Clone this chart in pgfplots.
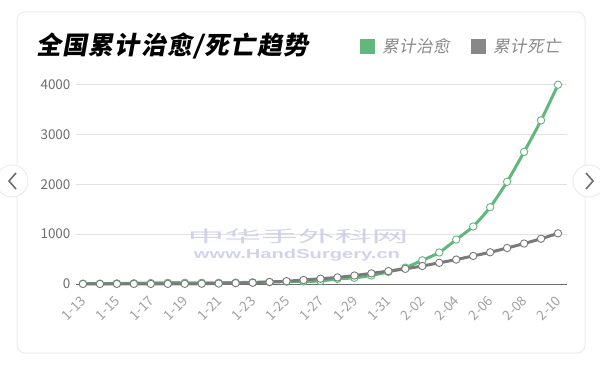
\documentclass[border=0pt]{standalone}
\usepackage{pgfplots}
\pgfplotsset{compat=1.18}
\usepackage{fontspec}
\setmainfont{Noto Sans CJK SC}
\newfontfamily\cjktitle{Noto Sans CJK SC}[FakeSlant=0.18, LetterSpace=5]
\newfontfamily\cjkit{Noto Sans CJK SC}[FakeSlant=0.18, LetterSpace=3]
\newfontfamily\wmfont{Liberation Sans}
\definecolor{curegreen}{RGB}{98,184,124}
\definecolor{deathgray}{RGB}{122,122,122}
\definecolor{leggray}{RGB}{136,136,136}
\definecolor{tickgray}{RGB}{110,110,110}
\definecolor{xtickgray}{RGB}{160,160,160}
\definecolor{gridgray}{RGB}{226,226,226}
\definecolor{cardborder}{RGB}{236,236,236}
\definecolor{wm}{RGB}{196,196,232}
\pgfplotstableread{
idx cured deaths
0 7 1
1 7 1
2 12 2
3 15 2
4 19 2
5 25 3
6 25 3
7 25 6
8 25 9
9 28 17
10 34 25
11 38 41
12 49 56
13 51 80
14 60 106
15 103 132
16 124 170
17 171 213
18 243 259
19 328 304
20 475 361
21 632 425
22 892 490
23 1153 563
24 1540 636
25 2050 722
26 2649 811
27 3281 908
28 3996 1016
}\datatable
\begin{document}
\begin{tikzpicture}[x=1bp,y=1bp]
\path[use as bounding box] (0,0) rectangle (600,364);
\clip (0,0) rectangle (600,364);
\fill[white] (0,0) rectangle (600,364);
\draw[cardborder, line width=1bp, rounded corners=8bp] (17,11) rectangle (585,352);
% title
\node[anchor=west, inner sep=0pt, text=black] at (36,318)
  {\fontsize{25bp}{29bp}\cjktitle\bfseries 全国累计治愈/死亡趋势};
% legend
\fill[curegreen] (360,310.5) rectangle (375,325.5);
\node[anchor=west, inner sep=0pt, text=leggray] at (382,318)
  {\fontsize{16.5bp}{20bp}\cjkit 累计治愈};
\fill[leggray] (471,310.5) rectangle (486,325.5);
\node[anchor=west, inner sep=0pt, text=leggray] at (493,318)
  {\fontsize{16.5bp}{20bp}\cjkit 累计死亡};
\begin{axis}[
  at={(76bp,80bp)}, anchor=south west,
  scale only axis, width=491bp, height=199.5bp,
  xmin=-0.41, xmax=28.53, ymin=0, ymax=4000,
  clip=false,
  axis x line=bottom, axis y line=left,
  x axis line style={-, draw=tickgray, line width=0.8bp},
  y axis line style={draw=none},
  major tick length=0pt,
  ytick={0,1000,2000,3000,4000},
  ymajorgrids, grid style={gridgray, line width=0.8bp},
  xtick={0,2,...,28},
  xticklabels={1-13,1-15,1-17,1-19,1-21,1-23,1-25,1-27,1-29,1-31,2-02,2-04,2-06,2-08,2-10},
  yticklabel style={font=\fontsize{13.5bp}{15bp}\selectfont, text=tickgray, xshift=-2bp},
  xticklabel style={font=\fontsize{13.5bp}{15bp}\selectfont, text=xtickgray, xshift=3bp, yshift=-12bp, rotate=45, anchor=east},
  /pgf/number format/assume math mode=true,
  scaled y ticks=false,
  yticklabel={\pgfmathprintnumber[fixed, 1000 sep={}]{\tick}},
]
\addplot[curegreen, line width=3bp, smooth, tension=0.4, mark=*, mark size=3.7bp,
  mark options={fill=white, draw=curegreen, line width=0.9bp}]
  table[x=idx, y=cured] {\datatable};
\addplot[deathgray, line width=3bp, smooth, tension=0.4, mark=*, mark size=3.7bp,
  mark options={fill=white, draw=deathgray, line width=0.9bp}]
  table[x=idx, y=deaths] {\datatable};
\end{axis}
% watermark
\node[text=wm, opacity=0.75, inner sep=0pt, xscale=2.3] at (298,128)
  {\fontsize{16bp}{18bp}\selectfont 中华手外科网};
\node[text=wm, opacity=0.75, inner sep=0pt, xscale=1.55] at (297,109)
  {\fontsize{13bp}{15bp}\wmfont\bfseries www.HandSurgery.cn};
% nav buttons
\fill[white, draw=cardborder, line width=1bp] (12,183) circle (16);
\draw[tickgray, line width=1.6bp] (16,191) -- (9,183) -- (16,175);
\fill[white, draw=cardborder, line width=1bp] (589,183) circle (16);
\draw[tickgray, line width=1.6bp] (586,191) -- (593,183) -- (586,175);
\end{tikzpicture}
\end{document}
